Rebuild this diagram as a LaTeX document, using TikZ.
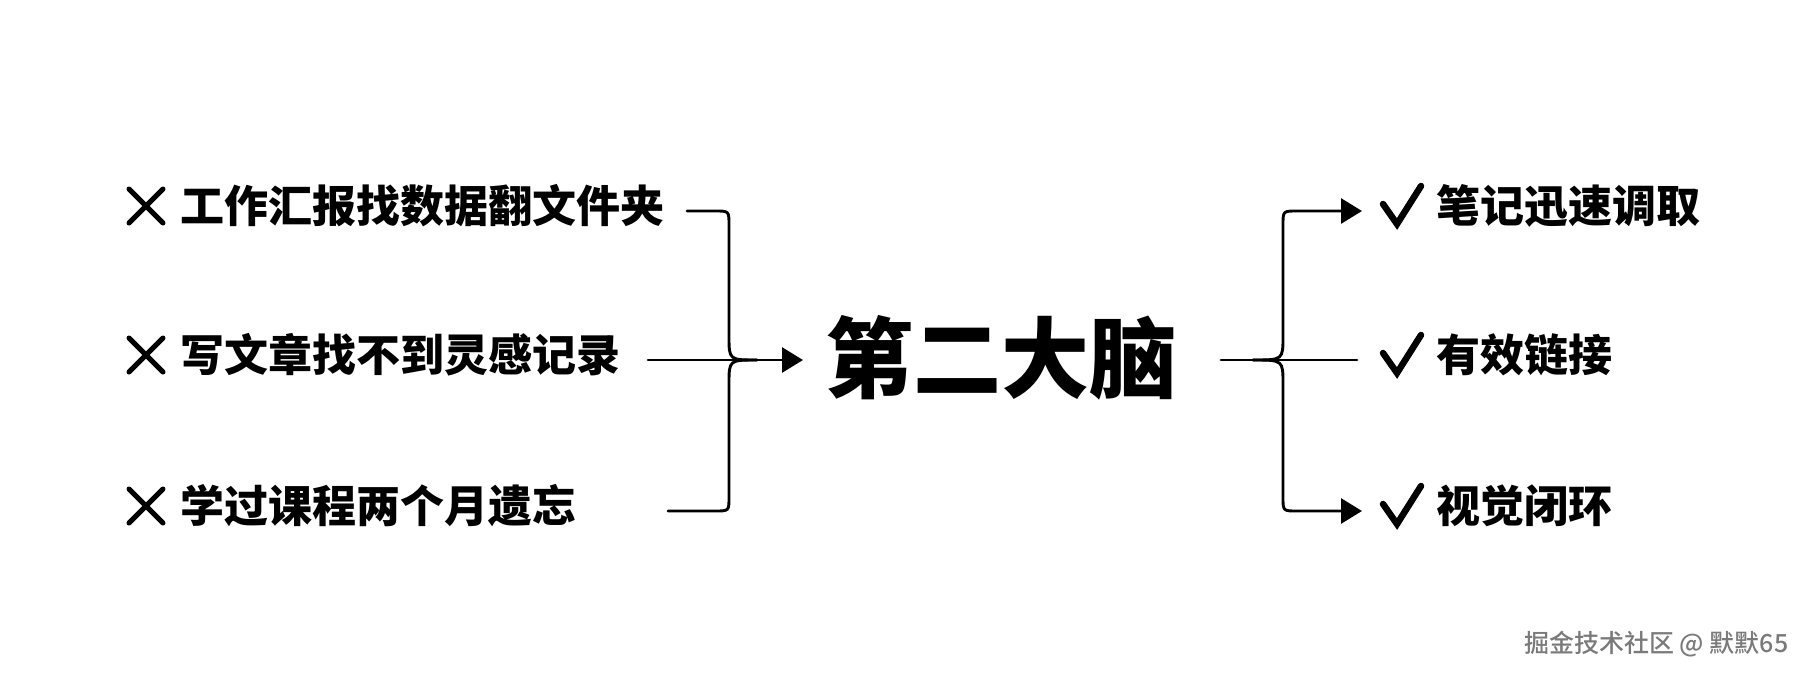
\documentclass[tikz,border=0pt]{standalone}
\usepackage{fontspec}
\newfontfamily\cjk{Noto Sans CJK SC}[BoldFont={Noto Sans CJK SC Black}]
\newfontfamily\cjkblack{Noto Sans CJK SC Black}
\newfontfamily\cjkmed{Noto Sans CJK SC Medium}
\usetikzlibrary{arrows.meta}
\definecolor{wmgray}{HTML}{7A7A7A}
\begin{document}
\begin{tikzpicture}[x=1pt,y=-1pt,
  item/.style={anchor=west,inner sep=0pt,font=\cjk\bfseries\fontsize{44pt}{48pt}\selectfont},
  conn/.style={line width=2.9pt,line cap=round},
  arr/.style={conn,-{Triangle[length=21pt,width=25pt]}},
  iconline/.style={line width=5pt,line cap=round,line join=round},
  checkline/.style={line width=6.5pt,line cap=round,line join=miter}]
\useasboundingbox (0,0) rectangle (1808,678);
\fill[white] (0,0) rectangle (1808,678);

% left items
\node[item] (l1) at (180,206) {工作汇报找数据翻文件夹};
\node[item] (l2) at (180,355) {写文章找不到灵感记录};
\node[item] (l3) at (180,506) {学过课程两个月遗忘};
\foreach \y in {206,355,506}{
  \draw[iconline] (129,\y-17) -- (163,\y+17);
  \draw[iconline] (163,\y-17) -- (129,\y+17);
}

% center
\node[inner sep=0pt,anchor=center,font=\cjkblack\fontsize{88pt}{92pt}\selectfont] (c) at (1001,358) {第二大脑};

% right items
\node[item] (r1) at (1436,206) {笔记迅速调取};
\node[item] (r2) at (1436,355) {有效链接};
\node[item] (r3) at (1436,506) {视觉闭环};
\foreach \y in {206,355,506}{
  \draw[checkline] (1383,\y-2) -- (1397,\y+18) -- (1421,\y-20);
}

% left connectors (yshift is measured upward on the page)
\coordinate (l1e) at (687,211);
\coordinate (l2e) at (648,360);
\coordinate (l3e) at (668,511);
\coordinate (lv) at (729,360);
\coordinate (ctip) at (803,360);
\draw[arr] (l2e) -- (ctip);
\draw[conn] (l1e) -- ([xshift=-14pt]l1e -| lv) .. controls (l1e -| lv) .. ([yshift=-14pt]l1e -| lv)
  -- ([yshift=24pt]lv) .. controls (lv) .. ([xshift=28pt]lv);
\draw[conn] (l3e) -- ([xshift=-14pt]l3e -| lv) .. controls (l3e -| lv) .. ([yshift=14pt]l3e -| lv)
  -- ([yshift=-24pt]lv) .. controls (lv) .. ([xshift=28pt]lv);

% right connectors
\coordinate (rs) at (1221,360);
\coordinate (rv) at (1283,360);
\coordinate (rmid) at (1357,360);
\coordinate (r1t) at (1362,211);
\coordinate (r3t) at (1362,511);
\draw[conn] (rs) -- (rmid);
\draw[arr] ([xshift=-30pt]rv) .. controls (rv) .. ([yshift=24pt]rv) -- ([yshift=-14pt]rv |- r1t)
  .. controls (rv |- r1t) .. ([xshift=14pt]rv |- r1t) -- (r1t);
\draw[arr] ([xshift=-30pt]rv) .. controls (rv) .. ([yshift=-24pt]rv) -- ([yshift=14pt]rv |- r3t)
  .. controls (rv |- r3t) .. ([xshift=14pt]rv |- r3t) -- (r3t);

% watermark
\node[anchor=west,inner sep=0pt,text=wmgray,font=\cjkmed\fontsize{25pt}{28pt}\selectfont] (wm) at (1524,644) {掘金技术社区 @ 默默65};
\end{tikzpicture}
\end{document}
